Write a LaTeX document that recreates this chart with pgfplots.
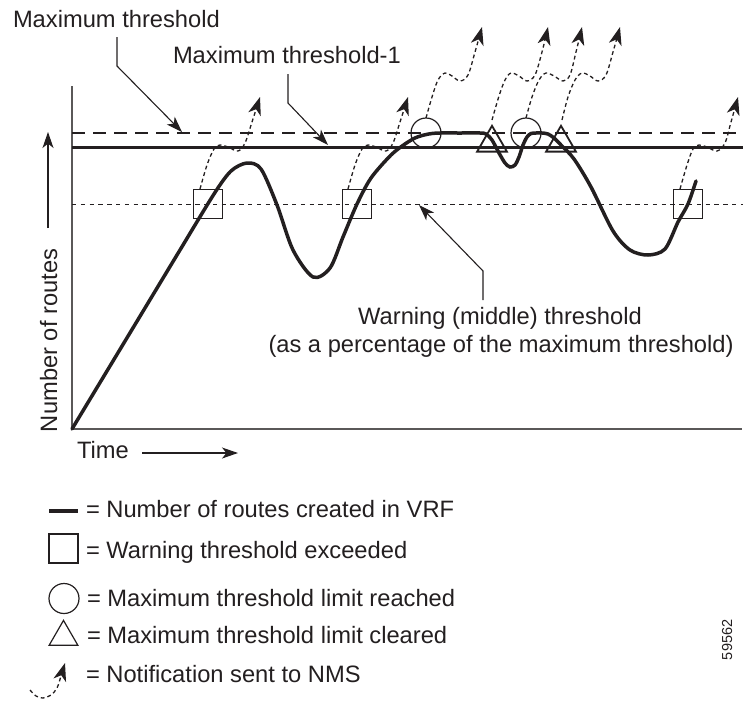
\documentclass[border=0pt]{standalone}
\usepackage{pgfplots}
\pgfplotsset{compat=1.18}
\usepackage{fontspec}
\setmainfont{Liberation Sans}
\usetikzlibrary{arrows.meta}
\definecolor{ink}{RGB}{35,31,32}
\definecolor{axgray}{RGB}{90,88,88}
\tikzset{
  txt/.style={inner sep=0pt, outer sep=0pt, font=\fontsize{11.85}{14}\selectfont, text=ink},
  nms/.style={ink, line width=0.65pt, dash pattern=on 1.9pt off 1.5pt, smooth, tension=0.55,
     -{Stealth[length=9pt,width=6.5pt,inset=2.6pt]}},
  lead/.style={ink, line width=0.55pt, -{Stealth[length=8pt,width=5.5pt,inset=2.2pt]}}
}

\begin{document}
\begin{tikzpicture}
\begin{axis}[hide axis, scale only axis, width=371.5pt, height=351pt,
  xmin=0, xmax=743, ymin=0, ymax=702, y dir=reverse, clip=false]

\coordinate (BL) at (axis cs:0,702);
\coordinate (TR) at (axis cs:743,0);

% axes
\addplot[axgray, line width=0.6pt] coordinates {(72,86) (72,429) (742,429)};

% thresholds
\addplot[ink, line width=0.55pt, dash pattern=on 6.5pt off 4pt] coordinates {(72,133) (743,133)};
\addplot[ink, line width=1.5pt] coordinates {(72,147) (743,147)};
\addplot[ink, line width=0.5pt, dash pattern=on 2.2pt off 2.2pt] coordinates {(72,204) (743,204)};

% number of routes
\addplot[ink, line width=1.75pt, smooth, tension=0.5, line cap=round] coordinates {
(72,429) (110,366) (145,308) (180,250) (214,194) (231,171) (247,163) (261,169)
(277,205) (293,250) (313,277) (330,268) (343,237) (357,204) (371,178) (391,155)
(405,144) (415,138) (424,135) (432,133.5) (440,133) (460,133) (480,133) (486,134)
(492,140) (499,153) (505,163) (510,167) (515,165) (519,157) (523,145) (527,137)
(531,133.5) (536,133) (542,133) (548,134) (554,138) (561,145) (574,159) (591,187)
(613,231) (630,250) (648,255) (665,249) (678,222) (688,204) (696,181)};

% markers
\addplot[only marks, mark=square, mark size=7.25pt, mark options={draw=ink, line width=0.9pt, fill=none}]
 coordinates {(208,204) (357,204) (688,204)};
\addplot[only marks, mark=o, mark size=7.5pt, mark options={draw=ink, line width=0.6pt, fill=none}]
 coordinates {(426,133) (526,133)};
\addplot[only marks, mark=triangle, mark size=8.6pt, mark options={draw=ink, line width=0.9pt, fill=none}]
 coordinates {(492,143) (561,143)};

% notifications
\addplot[nms] coordinates {(200,189) (207,165) (214,149) (220,145) (228,147) (238,151) (245,143) (252,122) (260,97)};
\addplot[nms] coordinates {(348,189) (355,165) (362,149) (368,145) (376,147) (386,151) (393,143) (400,122) (408,97)};
\addplot[nms] coordinates {(426,118) (432,97) (438,80) (445,73) (452,76) (460,81) (468,75) (475,52) (482,27)};
\addplot[nms] coordinates {(492,120) (499,96) (505,80) (511,73) (519,76) (527,81) (535,75) (542,52) (548,27)};
\addplot[nms] coordinates {(526,118) (532,97) (539,80) (546,73) (554,76) (563,81) (570,75) (576,52) (582,27)};
\addplot[nms] coordinates {(562,120) (568,97) (575,80) (582,73) (590,76) (598,81) (606,75) (613,52) (620,27)};
\addplot[nms] coordinates {(680,189) (687,165) (693,149) (699,145) (707,147) (717,151) (725,143) (731,122) (738,97)};

% leaders
\addplot[lead] coordinates {(117,37) (117,66) (182,132)};
\addplot[lead] coordinates {(288,74) (288,103) (328,145)};
\addplot[lead] coordinates {(483,300) (483,271) (419,205)};
\addplot[lead] coordinates {(48,228) (48,132)};
\addplot[lead] coordinates {(142,453) (238,453)};

% texts
\node[txt, anchor=base west] at (axis cs:13,27) {Maximum threshold};
\node[txt, anchor=base west] at (axis cs:173,63) {Maximum threshold-1};
\node[txt, anchor=base] at (axis cs:500,324) {Warning (middle) threshold};
\node[txt, anchor=base] at (axis cs:501,352) {(as a percentage of the maximum threshold)};
\node[txt, anchor=base west] at (axis cs:77,458) {Time};
\node[txt, anchor=base west, rotate=90] at (axis cs:57,432) {Number of routes};
\node[txt, anchor=base west, rotate=90, font=\fontsize{7.25}{9}\selectfont] at (axis cs:732,660) {59562};

% legend
\addplot[ink, line width=1.6pt] coordinates {(49,511) (78,511)};
\addplot[only marks, mark=square, mark size=7.25pt, mark options={draw=ink, line width=0.8pt, fill=none}] coordinates {(63.5,548.5)};
\addplot[only marks, mark=o, mark size=7.5pt, mark options={draw=ink, line width=0.6pt, fill=none}] coordinates {(64,598.5)};
\addplot[only marks, mark=triangle, mark size=8.3pt, mark options={draw=ink, line width=0.6pt, fill=none}] coordinates {(63.5,637)};
\addplot[nms] coordinates {(30,690) (36,696) (43,698) (51,695) (57,688) (61,676) (65,663)};
\node[txt, anchor=base west] at (axis cs:86,517) {= Number of routes created in VRF};
\node[txt, anchor=base west] at (axis cs:86,558) {= Warning threshold exceeded};
\node[txt, anchor=base west] at (axis cs:87,606) {= Maximum threshold limit reached};
\node[txt, anchor=base west] at (axis cs:87,643) {= Maximum threshold limit cleared};
\node[txt, anchor=base west] at (axis cs:86,682) {= Notification sent to NMS};
\end{axis}
\pgfresetboundingbox
\path[use as bounding box] (BL) rectangle (TR);
\end{tikzpicture}
\end{document}
